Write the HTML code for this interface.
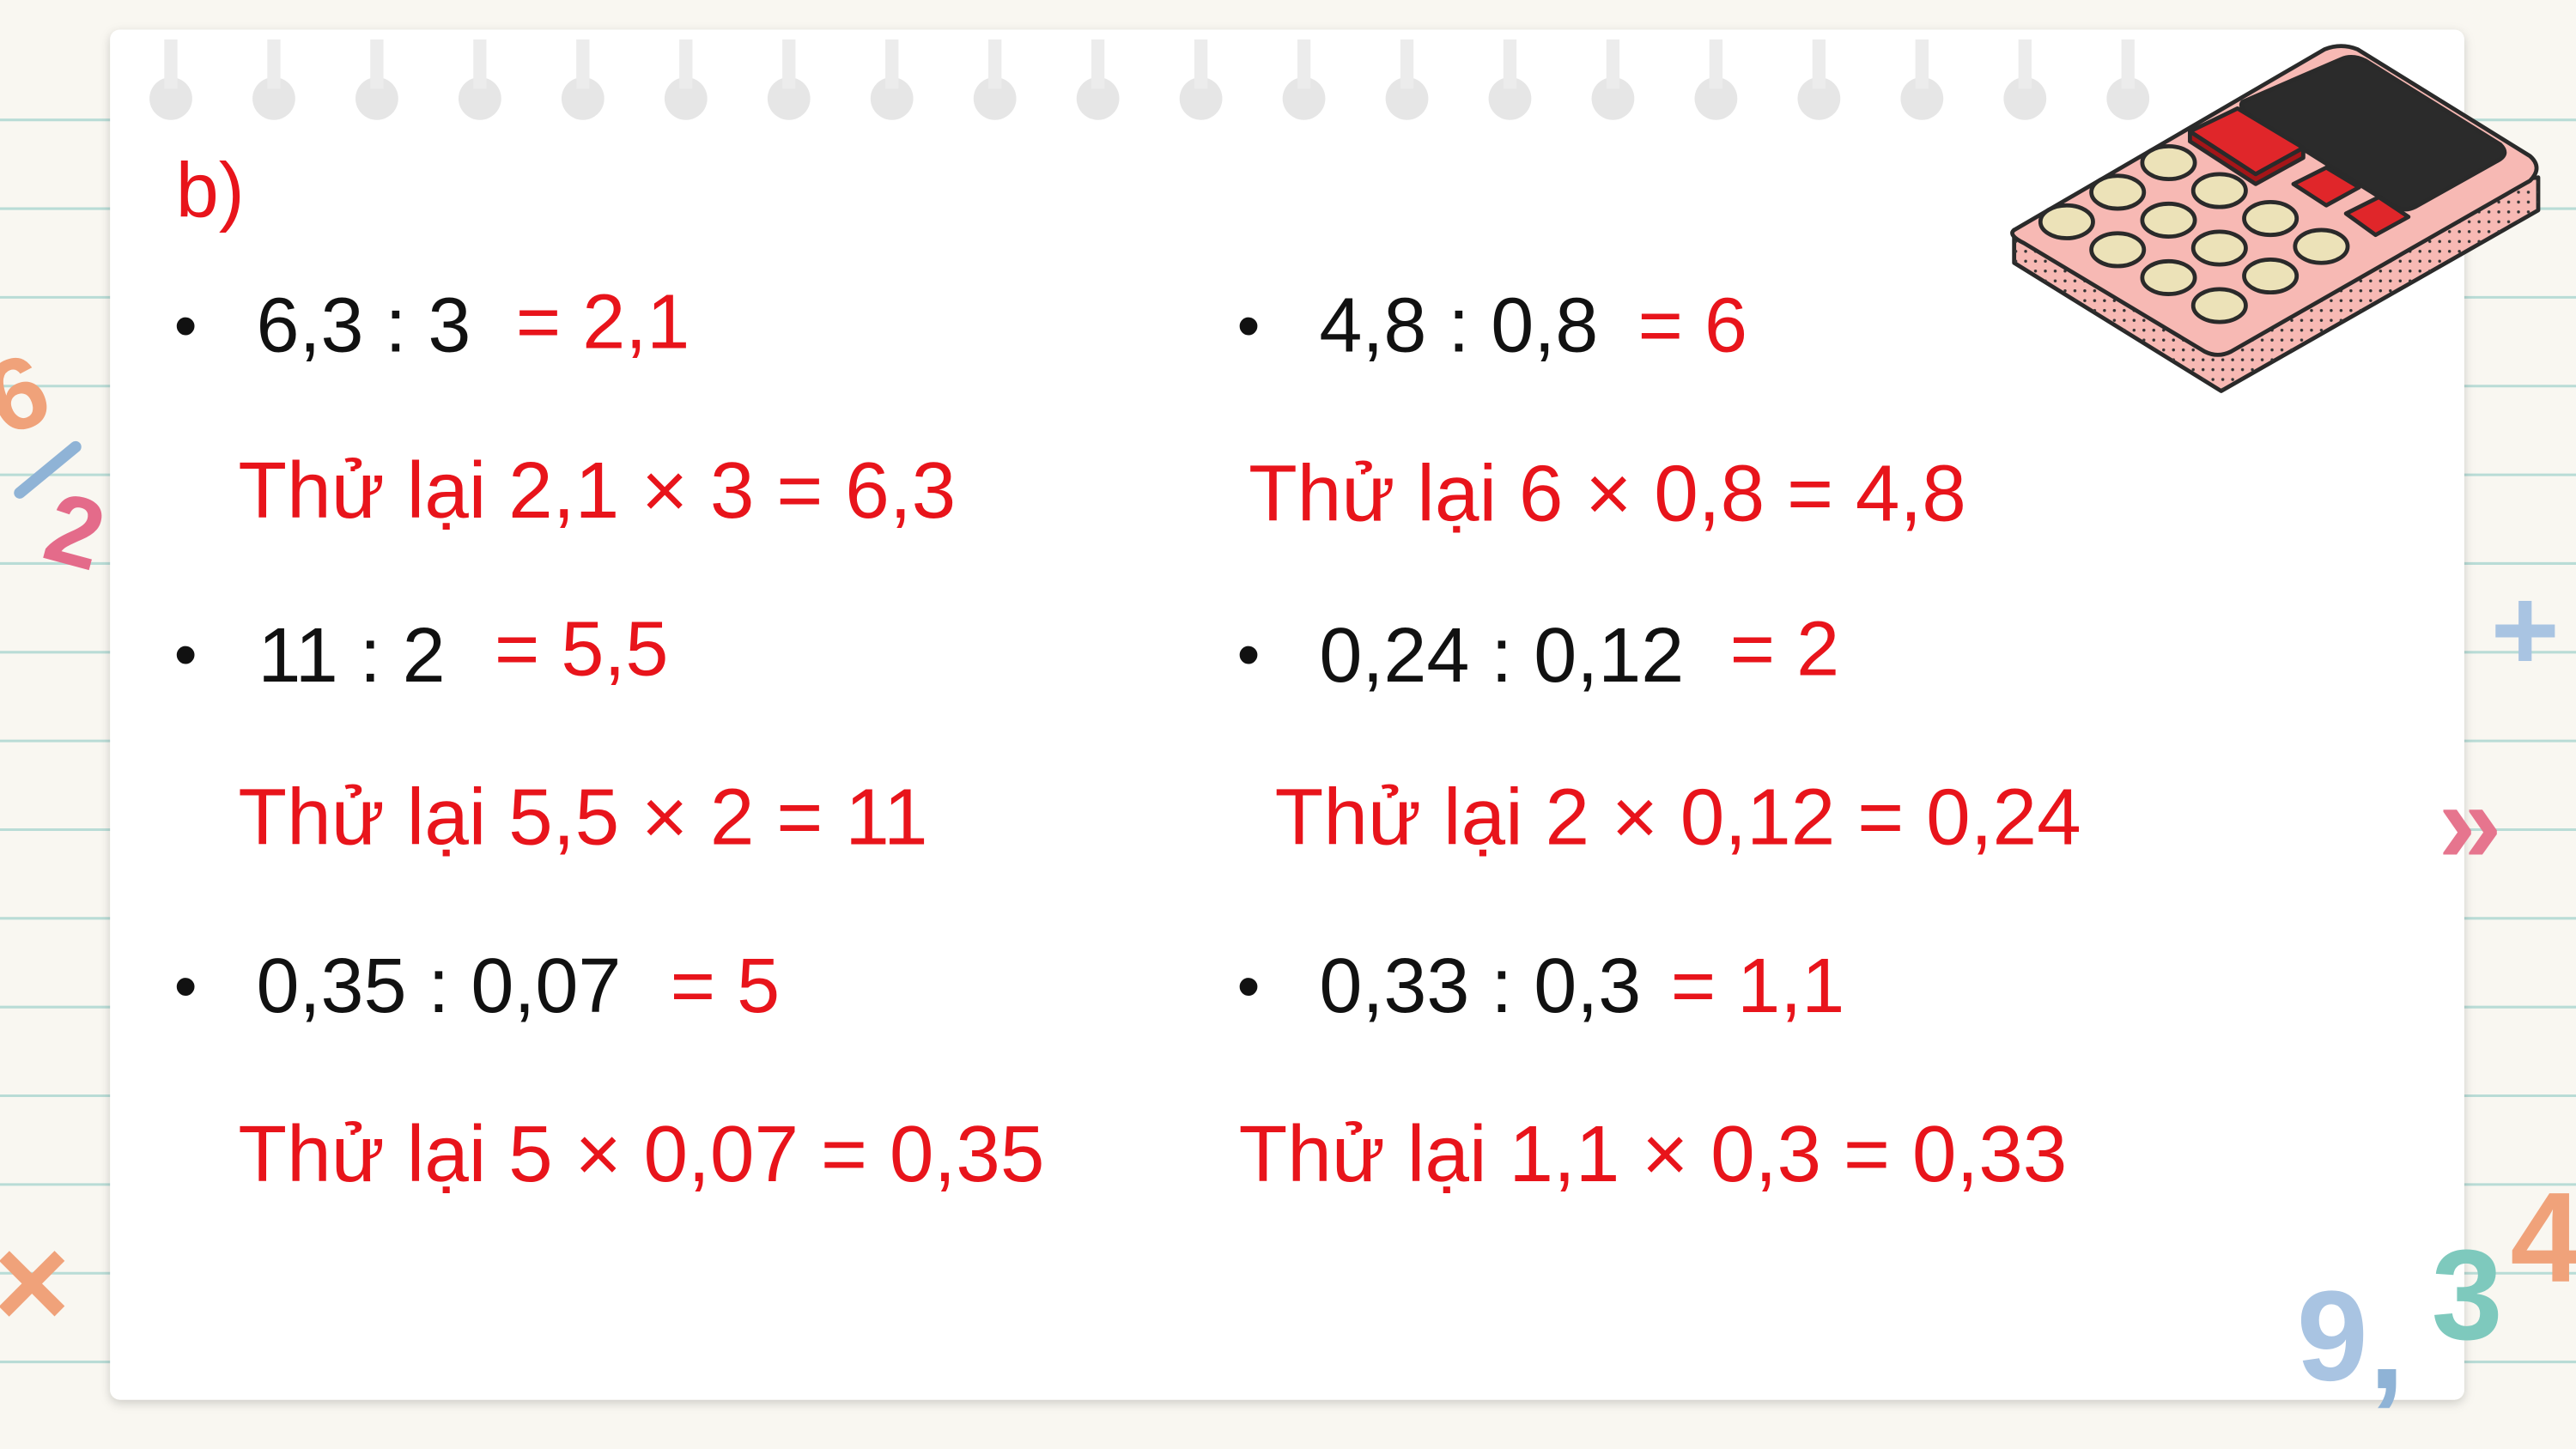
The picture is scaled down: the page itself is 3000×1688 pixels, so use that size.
<!DOCTYPE html>
<html><head><meta charset="utf-8"><style>
html,body{margin:0;padding:0;background:#f9f7f1;}
svg{display:block}
text{font-family:"Liberation Sans",Arial,sans-serif;}
</style></head><body>
<svg width="3000" height="1688" viewBox="0 0 1568 882" preserveAspectRatio="none" xmlns="http://www.w3.org/2000/svg">
<defs>
<filter id="sh" x="-5%" y="-5%" width="110%" height="110%"><feDropShadow dx="0" dy="2" stdDeviation="3" flood-color="#000" flood-opacity="0.18"/></filter>
<pattern id="dots" width="6" height="6" patternUnits="userSpaceOnUse"><circle cx="3" cy="3" r="0.9" fill="#333"/></pattern>
</defs>
<rect width="1568" height="882" fill="#f9f7f1"/>
<g stroke="#b9dcd6" stroke-width="1.6" id="lines"></g>
<rect x="67" y="18" width="1433" height="834" rx="6" fill="#ffffff" filter="url(#sh)"/>
<g id="holes"></g>

<g stroke="#2a2a2a" stroke-width="2.5" stroke-linejoin="round">
<path d="M1226,140 L1226,160 L1352,238 L1545,128 L1545,108 Z" fill="#f7b9b4"/>
<path d="M1226,160 L1352,238 L1545,128 L1545,108 L1352,215 L1226,140 Z" fill="url(#dots)" stroke="none"/>
<path d="M1226,140 L1415,30 Q1425,26 1435,30 L1540,95 Q1548,102 1540,110 L1358,214 Q1350,218 1342,214 L1232,148 Q1222,143 1226,140 Z" fill="#f7b9b4"/>
<path d="M1365,62 L1425,36 Q1432,33 1440,37 L1522,88 Q1528,94 1520,98 L1470,126 Q1464,129 1458,126 L1372,72 Q1362,66 1365,62 Z" fill="#2b2b2b"/>
<path d="M1333,80 L1362,66 L1402,90 L1373,106 Z" fill="#e0262a"/>
<path d="M1333,80 L1333,86 L1373,112 L1402,96 L1402,90 L1373,106 Z" fill="#a51518"/>
<path d="M1396,112 L1416,102 L1436,114 L1416,125 Z" fill="#e0262a"/>
<path d="M1428,130 L1448,120 L1466,132 L1446,143 Z" fill="#e0262a"/>
<g id="coins" fill="#ece2b8"></g>
</g>

<g>
<text x="-6" y="258" font-size="62" font-weight="bold" fill="#f0a27a" transform="rotate(-20 20 240)">6</text>
<line x1="12" y1="300" x2="46" y2="272" stroke="#8fb3d6" stroke-width="7" stroke-linecap="round"/>
<text x="30" y="345" font-size="60" font-weight="bold" fill="#e46b8a" transform="rotate(15 50 320)">2</text>
</g>
<text x="1516" y="408" font-size="72" font-weight="bold" fill="#a9c4e2">+</text>
<text x="1484" y="525" font-size="70" font-weight="bold" fill="#e6758e">»</text>
<text x="-4" y="808" font-size="80" font-weight="bold" fill="#f0a27a">×</text>
<g font-weight="bold" font-size="78">
<text x="1398" y="840" fill="#a9c4e2">9</text>
<text x="1442" y="845" fill="#8fb3d6">,</text>
<text x="1480" y="815" fill="#7ec9bd">3</text>
<text x="1528" y="780" fill="#f0a27a">4</text>
</g>

<g font-size="47">
<text x="107" y="132" fill="#e8141b">b)</text>
<g fill="#111">
<text x="106" y="212" font-size="40">•</text>
<text x="106" y="412" font-size="40">•</text>
<text x="106" y="614" font-size="40">•</text>
<text x="753" y="212" font-size="40">•</text>
<text x="753" y="412" font-size="40">•</text>
<text x="753" y="614" font-size="40">•</text>
<text x="156" y="214">6,3 : 3</text>
<text x="157" y="415">11 : 2</text>
<text x="156" y="616">0,35 : 0,07</text>
<text x="803" y="214">4,8 : 0,8</text>
<text x="803" y="415">0,24 : 0,12</text>
<text x="803" y="616">0,33 : 0,3</text>
</g>
<g fill="#e8141b">
<text x="314" y="212">= 2,1</text>
<text x="301" y="411">= 5,5</text>
<text x="408" y="616">= 5</text>
<text x="997" y="214">= 6</text>
<text x="1053" y="411">= 2</text>
<text x="1017" y="616">= 1,1</text>
<g font-size="48.5">
<text x="145" y="315">Thử lại 2,1 × 3 = 6,3</text>
<text x="145" y="514">Thử lại 5,5 × 2 = 11</text>
<text x="145" y="719">Thử lại 5 × 0,07 = 0,35</text>
<text x="760" y="317">Thử lại 6 × 0,8 = 4,8</text>
<text x="776" y="514">Thử lại 2 × 0,12 = 0,24</text>
<text x="754" y="719">Thử lại 1,1 × 0,3 = 0,33</text>
</g>
</g>
</g>
</svg>
<script>
var NS='http://www.w3.org/2000/svg';
var lg=document.getElementById('lines');
for(var y=73;y<882;y+=54){var l=document.createElementNS(NS,'line');


l.setAttribute('x1',0);l.setAttribute('x2',1568);l.setAttribute('y1',y);l.setAttribute('y2',y);lg.appendChild(l);}
var hg=document.getElementById('holes');
for(var x=104;x<1300;x+=62.7){var c=document.createElementNS(NS,'circle');


c.setAttribute('cx',x);c.setAttribute('cy',60);c.setAttribute('r',13);c.setAttribute('fill','#e6e6e6');hg.appendChild(c);
var r=document.createElementNS(NS,'rect');


r.setAttribute('x',x-4);r.setAttribute('y',24);r.setAttribute('width',8);r.setAttribute('height',30);r.setAttribute('fill','#ececec');hg.appendChild(r);}
var cg=document.getElementById('coins');
for(var i=0;i<4;i++)for(var j=0;j<3;j++){var cx=1258+j*31+i*31,cy=135-j*18+i*17;
var e=document.createElementNS(NS,'ellipse');


e.setAttribute('cx',cx);e.setAttribute('cy',cy);e.setAttribute('rx',16);e.setAttribute('ry',10);cg.appendChild(e);}
</script>
</body></html>
